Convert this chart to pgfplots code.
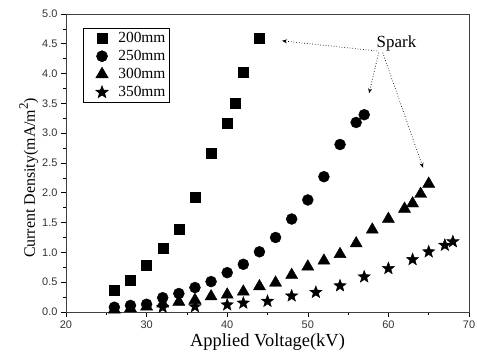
\documentclass[border=0pt]{standalone}
\usepackage{pgfplots}
\pgfplotsset{compat=1.18}
\usepackage{fontspec}
\setmainfont{Liberation Serif}
\setsansfont{Liberation Sans}
\usetikzlibrary{arrows.meta}
\pgfdeclareplotmark{fstar}{%
  \pgfpathmoveto{\pgfpointpolar{90}{\pgfplotmarksize}}%
  \pgfpathlineto{\pgfpointpolar{126}{0.42\pgfplotmarksize}}%
  \pgfpathlineto{\pgfpointpolar{162}{\pgfplotmarksize}}%
  \pgfpathlineto{\pgfpointpolar{198}{0.42\pgfplotmarksize}}%
  \pgfpathlineto{\pgfpointpolar{234}{\pgfplotmarksize}}%
  \pgfpathlineto{\pgfpointpolar{270}{0.42\pgfplotmarksize}}%
  \pgfpathlineto{\pgfpointpolar{306}{\pgfplotmarksize}}%
  \pgfpathlineto{\pgfpointpolar{342}{0.42\pgfplotmarksize}}%
  \pgfpathlineto{\pgfpointpolar{18}{\pgfplotmarksize}}%
  \pgfpathlineto{\pgfpointpolar{54}{0.42\pgfplotmarksize}}%
  \pgfpathclose
  \pgfusepathqfillstroke
}
\begin{document}
\begin{tikzpicture}
\begin{axis}[
  name=ax,
  scale only axis,
  width=403bp, height=298bp,
  xmin=20, xmax=70, ymin=0, ymax=5,
  xtick={20,30,...,70},
  ytick={0,0.5,...,5},
  minor xtick={25,35,...,65},
  minor ytick={0.25,0.75,...,4.75},
  tick align=outside,
  xtick pos=bottom, ytick pos=left,
  major tick length=5bp, minor tick length=3bp,
  tick style={black, line width=0.6pt},
  axis line style={black!75, line width=0.8pt},
  xticklabel style={/pgf/number format/fixed},
  yticklabel style={/pgf/number format/fixed, /pgf/number format/fixed zerofill, /pgf/number format/precision=1},
  /pgf/number format/assume math mode=true,
  tick label style={font=\sffamily\fontsize{11}{13}\selectfont, text=black!80},
  xlabel={Applied Voltage(kV)},
  ylabel={Current Density(mA/m\raisebox{0.45em}{\fontsize{13}{15}\selectfont 2})},
  xlabel style={font=\fontsize{18.5}{21}\selectfont, yshift=1bp},
  ylabel style={font=\fontsize{16}{19}\selectfont, at={(ticklabel cs:0.45)}, yshift=-3bp},
  legend style={at={(0.042,0.953)}, anchor=north west, draw=black, line width=0.6pt,
    font=\fontsize{15.5}{18}\selectfont, row sep=2.3bp, inner xsep=1.5bp, inner ysep=2bp},
  legend image code/.code={\path (-17bp,0) coordinate (lgA) (14bp,0) coordinate (lgB); \draw[#1, mark indices={1}] plot coordinates {(0bp,0bp)};},
  legend cell align=left,
]
\addplot[only marks, mark=square*, mark size=5bp, black] coordinates {
(26,0.36) (28,0.53) (30,0.79) (32,1.07) (34,1.39) (36,1.92) (38,2.66) (40,3.16) (41,3.51) (42,4.02) (44,4.59)};
\addlegendentry{200mm}
\addplot[only marks, mark=*, mark size=5.5bp, black] coordinates {
(26,0.08) (28,0.11) (30,0.13) (32,0.24) (34,0.31) (36,0.41) (38,0.51) (40,0.66) (42,0.80) (44,1.01) (46,1.25) (48,1.56) (50,1.88) (52,2.27) (54,2.81) (56,3.18) (57,3.31)};
\addlegendentry{250mm}
\addplot[only marks, mark=triangle*, mark size=7bp, black] coordinates {
(26,0.04) (28,0.06) (30,0.09) (32,0.14) (34,0.17) (36,0.20) (38,0.26) (40,0.29) (42,0.34) (44,0.43) (46,0.49) (48,0.62) (50,0.76) (52,0.86) (54,0.97) (56,1.15) (58,1.38) (60,1.56) (62,1.73) (63,1.82) (64,1.98) (65,2.15)};
\addlegendentry{300mm}
\addplot[only marks, mark=fstar, mark size=6.5bp, black] coordinates {
(32,0.08) (36,0.09) (40,0.12) (42,0.15) (45,0.18) (48,0.27) (51,0.33) (54,0.44) (57,0.59) (60,0.73) (63,0.88) (65,1.01) (67,1.12) (68,1.18)};
\addlegendentry{350mm}
\node[font=\fontsize{17}{20}\selectfont, anchor=center] at (axis cs:61,4.5) {Spark};
\draw[dotted, line width=0.7pt, -{Stealth[length=5bp,width=4bp]}] (axis cs:58.6,4.38) -- (axis cs:46.8,4.55);
\draw[dotted, line width=0.7pt, -{Stealth[length=5bp,width=4bp]}] (axis cs:58.8,4.35) -- (axis cs:57.6,3.67);
\draw[dotted, line width=0.7pt, -{Stealth[length=5bp,width=4bp]}] (axis cs:59.3,4.35) -- (axis cs:64.3,2.42);
\end{axis}
\pgfresetboundingbox
\path ([shift={(-66bp,-50bp)}]ax.south west) rectangle ([shift={(8bp,14bp)}]ax.north east);
\end{tikzpicture}
\end{document}
